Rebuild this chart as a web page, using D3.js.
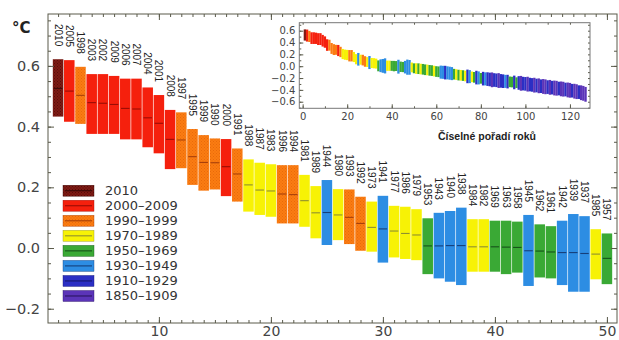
<!DOCTYPE html>
<html><head><meta charset="utf-8">
<script src="https://cdn.jsdelivr.net/npm/d3@7"></script>
<style>body{margin:0;background:#fff}svg{display:block}</style>
</head><body><svg id="c" width="619" height="340"></svg>
<script>
// ---- data ----
const years = [2010,2005,1998,2003,2002,2009,2006,2007,2004,2001,2008,1997,1995,1999,1990,2000,1991,1988,1987,1983,1996,1994,1981,1989,1944,1980,1993,1992,1973,1941,1977,1986,1979,1953,1943,1940,1938,1984,1982,1969,1963,1958,1945,1962,1961,1942,1939,1937,1985,1957];
const means = [0.526,0.517,0.503,0.479,0.477,0.473,0.460,0.458,0.429,0.411,0.358,0.356,0.301,0.282,0.281,0.268,0.244,0.208,0.191,0.188,0.178,0.176,0.156,0.116,0.117,0.109,0.101,0.081,0.068,0.063,0.056,0.048,0.043,0.007,0.007,0.008,0.008,0.004,0.004,0.004,0.003,0.002,-0.009,-0.010,-0.013,-0.015,-0.015,-0.018,-0.020,-0.034];
const highs = [0.622,0.619,0.597,0.573,0.573,0.567,0.558,0.558,0.529,0.504,0.455,0.447,0.392,0.372,0.361,0.359,0.328,0.292,0.281,0.276,0.273,0.273,0.241,0.204,0.224,0.194,0.193,0.169,0.153,0.172,0.139,0.136,0.128,0.098,0.116,0.122,0.133,0.095,0.095,0.090,0.090,0.087,0.109,0.078,0.072,0.090,0.112,0.105,0.062,0.048];
const lows = [0.433,0.416,0.409,0.376,0.376,0.376,0.358,0.358,0.332,0.312,0.260,0.263,0.208,0.189,0.193,0.171,0.153,0.120,0.109,0.103,0.081,0.081,0.070,0.032,0.010,0.026,0.013,-0.009,-0.012,-0.048,-0.031,-0.036,-0.040,-0.086,-0.100,-0.111,-0.122,-0.078,-0.078,-0.078,-0.086,-0.081,-0.125,-0.097,-0.100,-0.122,-0.144,-0.144,-0.103,-0.119];
const legendLabels = ["2010","2000–2009","1990–1999","1970–1989","1950–1969","1930–1949","1910–1929","1850–1909"];
const groupColors = ["#7d1a14","#f5200d","#fb7c12","#f7f205","#3aa935","#2d8de3","#2b2fc4","#5b34b8"];
const groupLineColors = ["#3a0a08","#9a0d05","#a8400a","#8f8f30","#16521a","#163f7a","#15186e","#2a1660"];
const xTicks = [10,20,30,40,50];
const yTicks = [-0.2,0,0.2,0.4,0.6];
// inset: ranks 51..127 (ranks 1..50 come from the main arrays)
const insetMeans = [-0.040,-0.042,-0.048,-0.052,-0.060,-0.063,-0.070,-0.074,-0.082,-0.090,
 -0.094,-0.100,-0.103,-0.108,-0.112,-0.118,-0.125,-0.135,-0.142,-0.150,
 -0.153,-0.158,-0.165,-0.172,-0.176,-0.180,-0.188,-0.192,-0.198,-0.205,
 -0.210,-0.214,-0.218,-0.224,-0.230,-0.233,-0.238,-0.242,-0.248,-0.253,
 -0.256,-0.260,-0.264,-0.268,-0.274,-0.278,-0.283,-0.289,-0.294,-0.298,
 -0.303,-0.310,-0.316,-0.320,-0.326,-0.331,-0.338,-0.342,-0.348,-0.353,
 -0.357,-0.362,-0.368,-0.372,-0.377,-0.383,-0.388,-0.394,-0.401,-0.407,
 -0.414,-0.422,-0.430,-0.438,-0.448,-0.458,-0.475];
const insetGroups = "YGYGGYGGYG"+"GBBDBBBGYG"+"YGYDBYGDBG"+"DBDDPDDPDD"+"BDGGDGDPDD"+"PDDPDPDPPD"+"PDPPDPPDPP"+"DPPDPPP";
const groupUncertainty = [0.095,0.095,0.095,0.09,0.09,0.11,0.115,0.125];
const insetXTicks = [0,20,40,60,80,100,120];
const insetYTicks = [-0.6,-0.4,-0.2,0,0.2,0.4,0.6];

const groupOf = yr => yr===2010?0: yr>=2000?1: yr>=1990?2: yr>=1970?3: yr>=1950?4: yr>=1930?5: yr>=1910?6:7;
const letterGroup = {Y:3,G:4,B:5,D:6,P:7};

const svg = d3.select("#c");
const defs = svg.append("defs");
function hatch(id, bg, fg){
  const p = defs.append("pattern").attr("id",id).attr("patternUnits","userSpaceOnUse")
    .attr("width",3).attr("height",3);
  p.append("rect").attr("width",3).attr("height",3).attr("fill",bg);
  p.append("rect").attr("width",1).attr("height",1).attr("fill",fg);
  p.append("rect").attr("x",1.5).attr("y",1.5).attr("width",1).attr("height",1).attr("fill",fg);
}
hatch("h0","#7d1a14","#5a0d08");
hatch("h2","#fb7c12","#e86a0a");
const fillOf = g => g===0?"url(#h0)": g===2?"url(#h2)": groupColors[g];

const AX = "#5a5a4a";
const x = d3.scaleLinear().domain([0.1,50.9]).range([48,617]);
const y = d3.scaleLinear().domain([-0.247,0.771]).range([323,14]);

const data = years.map((yr,i)=>({rank:i+1, year:yr, mean:means[i], hi:highs[i], lo:lows[i], g:groupOf(yr)}));

// bars
const bw = x(0.94)-x(0);
const bars = svg.append("g");
bars.selectAll("rect").data(data).join("rect")
  .attr("x",d=>x(d.rank)-bw/2).attr("width",bw)
  .attr("y",d=>y(d.hi)).attr("height",d=>y(d.lo)-y(d.hi))
  .attr("fill",d=>fillOf(d.g));
bars.selectAll("line").data(data).join("line")
  .attr("x1",d=>x(d.rank)-bw/2+1).attr("x2",d=>x(d.rank)+bw/2-1)
  .attr("y1",d=>y(d.mean)).attr("y2",d=>y(d.mean))
  .attr("stroke",d=>groupLineColors[d.g]).attr("stroke-width",1.1);

// year labels
svg.append("g").selectAll("text").data(data).join("text")
  .attr("transform",d=>`translate(${x(d.rank)},${y(d.hi)-13}) rotate(90)`)
  .attr("text-anchor","end").attr("dominant-baseline","central")
  .attr("font-family","Liberation Sans, Arial, sans-serif").attr("font-size",10)
  .attr("fill","#222").text(d=>d.year);

// axes
function styleAxis(g){ g.select(".domain").remove(); g.selectAll("line").attr("stroke",AX); }
const yMinor = d3.range(-0.2,0.76,0.05);
const xMinor = d3.range(1,51,1);
svg.append("g").attr("transform","translate(48,0)")
  .call(d3.axisLeft(y).tickValues(yMinor).tickSize(-3).tickFormat("")).call(styleAxis);
svg.append("g").attr("transform","translate(617,0)")
  .call(d3.axisRight(y).tickValues(yMinor).tickSize(-3).tickFormat("")).call(styleAxis);
const yAx = svg.append("g").attr("transform","translate(48,0)")
  .call(d3.axisLeft(y).tickValues(yTicks).tickSize(-6).tickPadding(8).tickFormat(d3.format(".1f"))).call(styleAxis);
yAx.selectAll("text").attr("font-family","DejaVu Sans, sans-serif").attr("font-size",14.5).attr("fill","#444");
svg.append("g").attr("transform","translate(617,0)")
  .call(d3.axisRight(y).tickValues(yTicks).tickSize(-6).tickFormat("")).call(styleAxis);
svg.append("g").attr("transform","translate(0,323)")
  .call(d3.axisBottom(x).tickValues(xMinor).tickSize(-3).tickFormat("")).call(styleAxis);
svg.append("g").attr("transform","translate(0,14)")
  .call(d3.axisTop(x).tickValues(xMinor).tickSize(-3).tickFormat("")).call(styleAxis);
const xAx = svg.append("g").attr("transform","translate(0,323)")
  .call(d3.axisBottom(x).tickValues(xTicks).tickSize(-6).tickPadding(3).tickFormat(d3.format("d"))).call(styleAxis);
xAx.selectAll("text").attr("font-family","DejaVu Sans, sans-serif").attr("font-size",14).attr("fill","#444");
svg.append("g").attr("transform","translate(0,14)")
  .call(d3.axisTop(x).tickValues(xTicks).tickSize(-6).tickFormat("")).call(styleAxis);
svg.append("rect").attr("x",48).attr("y",14).attr("width",617-48).attr("height",323-14)
  .attr("fill","none").attr("stroke",AX).attr("stroke-width",1);

svg.append("text").attr("x",12).attr("y",33).attr("font-family","DejaVu Sans, sans-serif")
  .attr("font-weight","bold").attr("font-size",15).attr("fill","#222").text("°C");

// legend
const lg = svg.append("g");
legendLabels.forEach((lab,i)=>{
  const cy = 190.7 + 15.04*i;
  lg.append("rect").attr("x",63).attr("y",cy-5.5).attr("width",31).attr("height",11)
    .attr("fill",fillOf(i)).attr("stroke",groupLineColors[i]).attr("stroke-width",0.4);
  lg.append("line").attr("x1",65).attr("x2",92).attr("y1",cy).attr("y2",cy)
    .attr("stroke",groupLineColors[i]).attr("stroke-width",1.1);
  lg.append("text").attr("x",105).attr("y",cy).attr("dominant-baseline","central")
    .attr("font-family","DejaVu Sans, sans-serif").attr("font-size",13).attr("fill","#333").text(lab);
});

// inset
const ix = d3.scaleLinear().domain([-1.5,129]).range([299.3,590]);
const iy = d3.scaleLinear().domain([-0.711,0.735]).range([108.3,22.7]);
const insetData = data.map(d=>({rank:d.rank, hi:d.hi, lo:d.lo, g:d.g}))
  .concat(insetMeans.map((m,i)=>{const g=letterGroup[insetGroups[i]];
    return {rank:51+i, hi:m+groupUncertainty[g], lo:m-groupUncertainty[g], g:g};}));
const ins = svg.append("g");
ins.append("rect").attr("x",299.3).attr("y",22.7).attr("width",590-299.3).attr("height",108.3-22.7).attr("fill","#fff");
const iw = ix(1.05)-ix(0);
ins.selectAll("rect.b").data(insetData).join("rect").attr("class","b")
  .attr("x",d=>ix(d.rank)-iw/2).attr("width",iw)
  .attr("y",d=>iy(d.hi)).attr("height",d=>iy(d.lo)-iy(d.hi))
  .attr("fill",d=>groupColors[d.g]);
const iyMinor = d3.range(-0.7,0.71,0.1);
const ixMinor = d3.range(0,130,10);
ins.append("g").attr("transform","translate(299.3,0)").call(d3.axisLeft(iy).tickValues(iyMinor).tickSize(-2).tickFormat("")).call(styleAxis);
ins.append("g").attr("transform","translate(590,0)").call(d3.axisRight(iy).tickValues(iyMinor).tickSize(-2).tickFormat("")).call(styleAxis);
ins.append("g").attr("transform","translate(0,108.3)").call(d3.axisBottom(ix).tickValues(ixMinor).tickSize(-2).tickFormat("")).call(styleAxis);
ins.append("g").attr("transform","translate(0,22.7)").call(d3.axisTop(ix).tickValues(ixMinor).tickSize(-2).tickFormat("")).call(styleAxis);
const iyAx = ins.append("g").attr("transform","translate(299.3,0)")
  .call(d3.axisLeft(iy).tickValues(insetYTicks).tickSize(-4).tickPadding(4).tickFormat(d3.format(".1f"))).call(styleAxis);
iyAx.selectAll("text").attr("font-family","DejaVu Sans, sans-serif").attr("font-size",10).attr("fill","#444");
const ixAx = ins.append("g").attr("transform","translate(0,108.3)")
  .call(d3.axisBottom(ix).tickValues(insetXTicks).tickSize(-4).tickPadding(5).tickFormat(d3.format("d"))).call(styleAxis);
ixAx.selectAll("text").attr("font-family","DejaVu Sans, sans-serif").attr("font-size",10).attr("fill","#444");
ins.append("rect").attr("x",299.3).attr("y",22.7).attr("width",590-299.3).attr("height",108.3-22.7)
  .attr("fill","none").attr("stroke","#777").attr("stroke-width",1);
ins.append("text").attr("x",487).attr("y",136).attr("text-anchor","middle").attr("dominant-baseline","central")
  .attr("font-family","Liberation Sans, Arial, sans-serif").attr("font-weight","bold").attr("font-size",10.5)
  .attr("fill","#222").text("Číselné pořadí roků");
</script></body></html>
